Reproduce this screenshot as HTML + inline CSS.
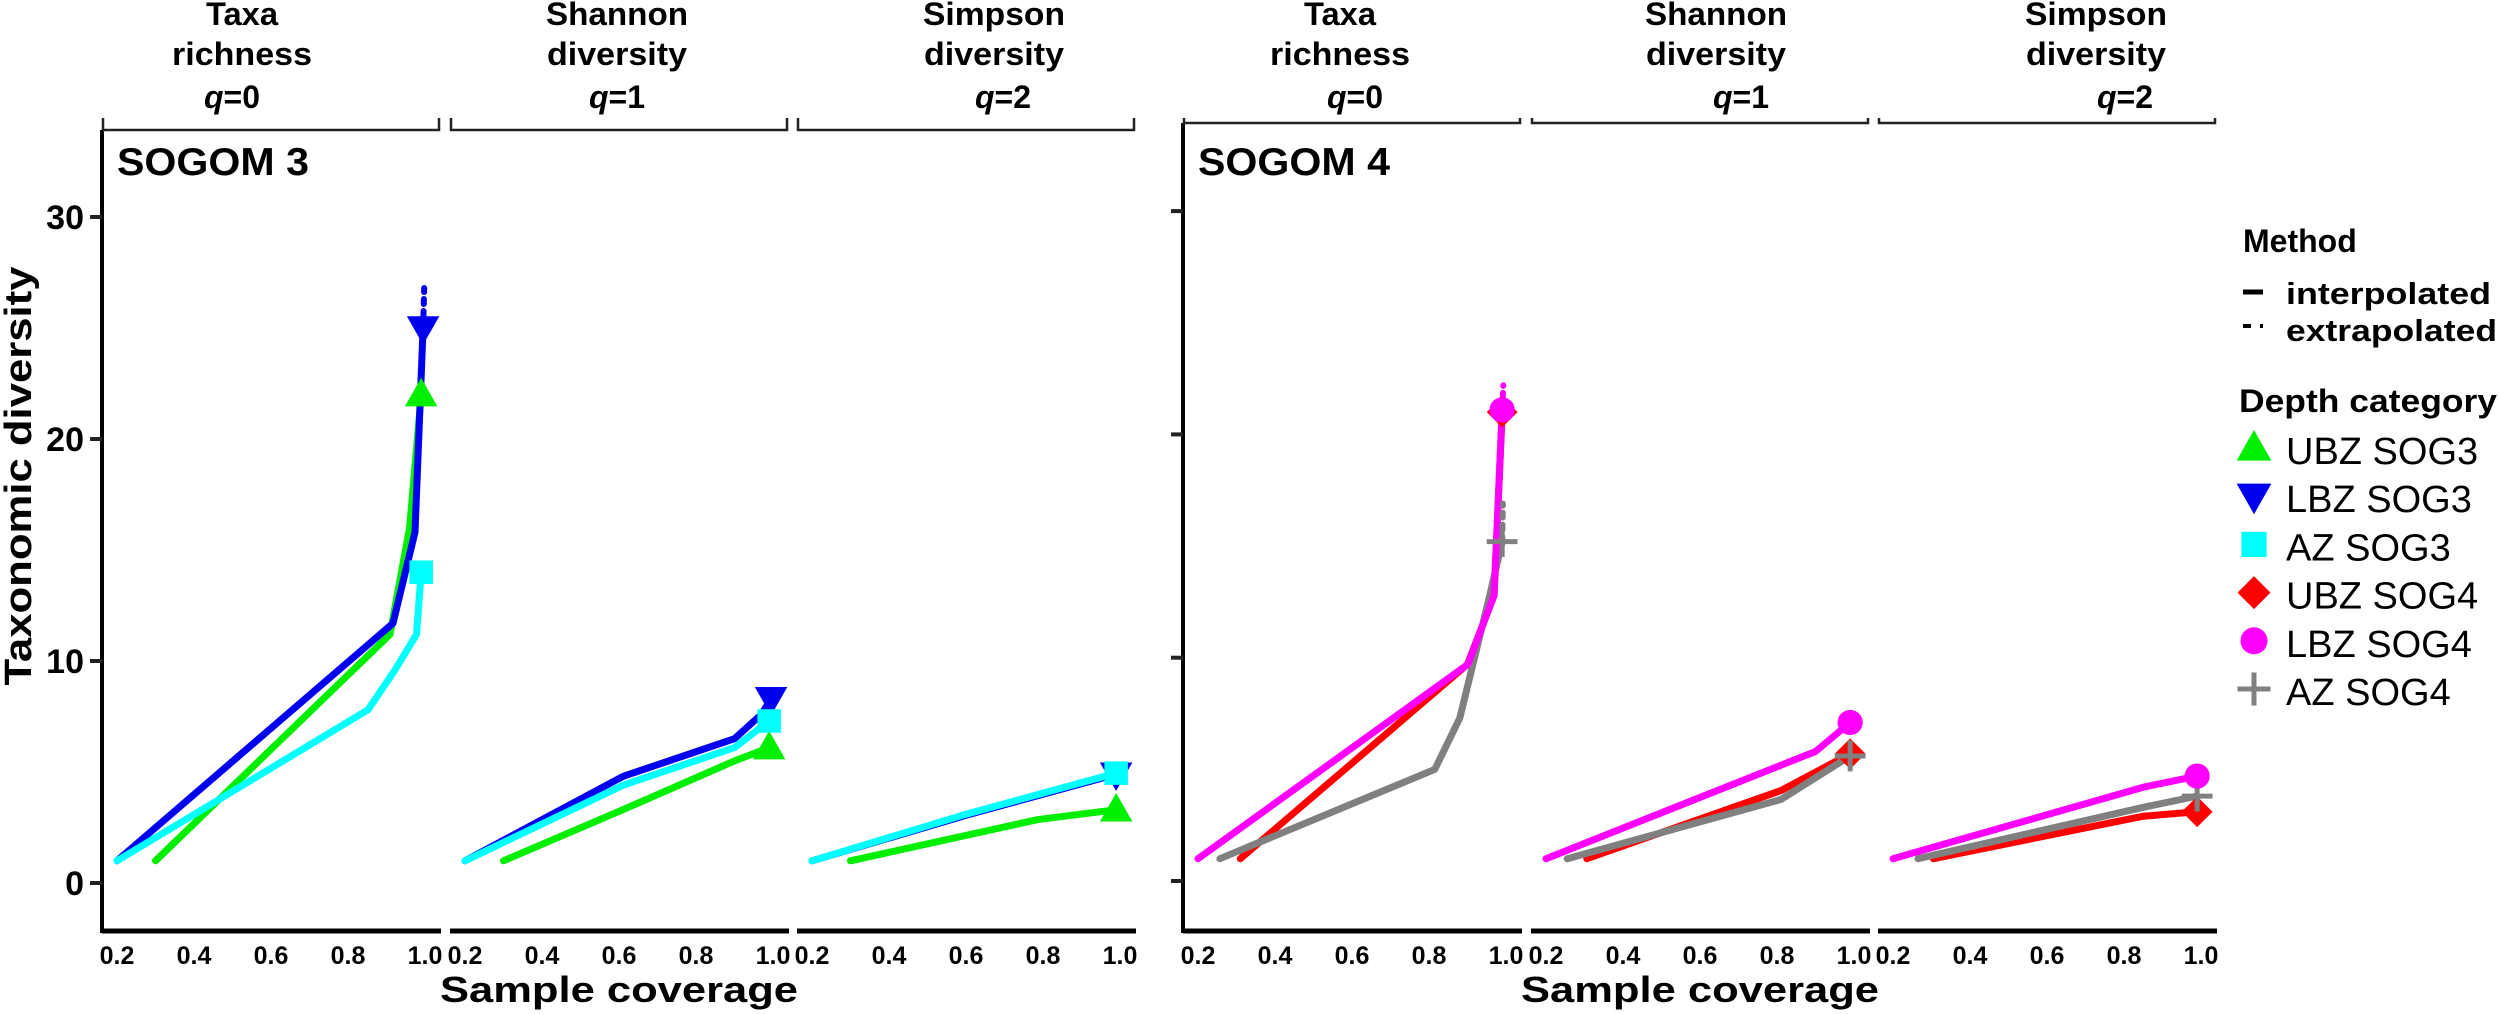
<!DOCTYPE html>
<html><head><meta charset="utf-8"><style>
html,body{margin:0;padding:0;background:#fff;}
svg{display:block;font-family:"Liberation Sans",Arial,sans-serif;}
</style></head><body>
<svg id="chart" width="2500" height="1014" viewBox="0 0 2500 1014" xmlns="http://www.w3.org/2000/svg"></svg>
<script>
// ---- data ----
const xTicks = [0.2, 0.4, 0.6, 0.8, 1.0];
const xTickLabels = ["0.2", "0.4", "0.6", "0.8", "1.0"];
const yTicks = [0, 10, 20, 30];
const yTickLabels = ["0", "10", "20", "30"];
const panelNames = ["SOGOM 3", "SOGOM 4"];
const facetTitles = [["Taxa", "richness", "0"], ["Shannon", "diversity", "1"], ["Simpson", "diversity", "2"]];
const seriesNames = ["UBZ SOG3", "LBZ SOG3", "AZ SOG3", "UBZ SOG4", "LBZ SOG4", "AZ SOG4"];

// SOGOM 3 - q=0
const cov_UBZ3_q0 = [0.30, 0.909, 0.96, 0.99];
const div_UBZ3_q0 = [1, 11.2, 16, 22];
const cov_AZ3_q0 = [0.2, 0.852, 0.922, 0.978, 0.99];
const div_AZ3_q0 = [1, 7.8, 9.6, 11.2, 14];
const cov_LBZ3_q0 = [0.2, 0.917, 0.974, 0.995];
const div_LBZ3_q0 = [1, 11.7, 15.8, 25];
const extCov_LBZ3_q0 = [0.995, 0.998];
const extDiv_LBZ3_q0 = [25, 26.8];
// SOGOM 3 - q=1
const cov_UBZ3_q1 = [0.3, 0.61, 0.9, 0.99];
const div_UBZ3_q1 = [1, 3.3, 5.5, 6.1];
const cov_AZ3_q1 = [0.2, 0.61, 0.9, 0.99];
const div_AZ3_q1 = [1, 4.4, 6.1, 7.3];
const cov_LBZ3_q1 = [0.2, 0.61, 0.9, 0.97, 0.995];
const div_LBZ3_q1 = [1, 4.8, 6.5, 7.6, 8.3];
// SOGOM 3 - q=2
const cov_UBZ3_q2 = [0.3, 0.785, 0.99];
const div_UBZ3_q2 = [1, 2.85, 3.3];
const cov_LBZ3_q2 = [0.2, 0.6, 0.99];
const div_LBZ3_q2 = [1, 3.05, 4.9];
const cov_AZ3_q2 = [0.2, 0.6, 0.99];
const div_AZ3_q2 = [1, 3.1, 4.95];
// SOGOM 4 - q=0
const cov_UBZ4_q0 = [0.31, 0.90, 0.969, 0.99];
const div_UBZ4_q0 = [1, 9.7, 12.8, 21];
const cov_AZ4_q0 = [0.257, 0.815, 0.88, 0.958, 0.99];
const div_AZ4_q0 = [1, 5, 7.3, 12.8, 15.2];
const extCov_AZ4_q0 = [0.99, 0.992];
const extDiv_AZ4_q0 = [15.2, 16.9];
const cov_LBZ4_q0 = [0.2, 0.901, 0.969, 0.99];
const div_LBZ4_q0 = [1, 9.7, 12.8, 21.1];
const extCov_LBZ4_q0 = [0.99, 0.993];
const extDiv_LBZ4_q0 = [21.1, 22.2];
// SOGOM 4 - q=1
const cov_UBZ4_q1 = [0.306, 0.81, 0.99];
const div_UBZ4_q1 = [1, 4.05, 5.7];
const cov_AZ4_q1 = [0.255, 0.81, 0.99];
const div_AZ4_q1 = [1, 3.65, 5.6];
const cov_LBZ4_q1 = [0.2, 0.9, 0.99];
const div_LBZ4_q1 = [1, 5.8, 7.1];
// SOGOM 4 - q=2
const cov_UBZ4_q2 = [0.305, 0.85, 0.99];
const div_UBZ4_q2 = [1, 2.9, 3.1];
const cov_AZ4_q2 = [0.265, 0.85, 0.99];
const div_AZ4_q2 = [1, 3.3, 3.8];
const cov_LBZ4_q2 = [0.2, 0.85, 0.99];
const div_LBZ4_q2 = [1, 4.2, 4.7];

// ---- layout ----
const NS = "http://www.w3.org/2000/svg";
const svg = document.getElementById("chart");
const colors = {UBZ3:"#00ee00", LBZ3:"#0000ee", AZ3:"#00ffff", UBZ4:"#ff0000", LBZ4:"#ff00ff", AZ4:"#808080"};
const shapes = {UBZ3:"tri", LBZ3:"itri", AZ3:"sq", UBZ4:"dia", LBZ4:"circ", AZ4:"plus"};
const panels = [
  {x0:102, facetLefts:[102,450,797], y0:883, yUnit:22.2, top:130, keys:["UBZ3","LBZ3","AZ3"]},
  {x0:1183, facetLefts:[1183,1531,1878], y0:881, yUnit:22.33, top:123, keys:["UBZ4","AZ4","LBZ4"]}
];
const facetW = 339, bottomY = 931;
const titleCenters = [[[242,232],[617,617],[994,1003]],[[1340,1355],[1716,1741],[2096,2125]]];

function mk(tag, attrs, parent){
  const e = document.createElementNS(NS, tag);
  for (const k in attrs) e.setAttribute(k, attrs[k]);
  (parent || svg).appendChild(e);
  return e;
}
function xs(p, f, c){ return panels[p].facetLefts[f] + 15 + (c - 0.2) * 385; }
function ys(p, v){ return panels[p].y0 - v * panels[p].yUnit; }

function marker(shape, cx, cy, s, color, parent){
  let e;
  if (shape === "tri") e = mk("polygon", {points:`${cx},${cy-s*0.6} ${cx-s*0.58},${cy+s*0.42} ${cx+s*0.58},${cy+s*0.42}`, fill:color}, parent);
  else if (shape === "itri") e = mk("polygon", {points:`${cx},${cy+s*0.6} ${cx-s*0.58},${cy-s*0.42} ${cx+s*0.58},${cy-s*0.42}`, fill:color}, parent);
  else if (shape === "sq") e = mk("rect", {x:cx-s*0.42, y:cy-s*0.42, width:s*0.84, height:s*0.84, fill:color}, parent);
  else if (shape === "dia") e = mk("polygon", {points:`${cx},${cy-s*0.55} ${cx+s*0.55},${cy} ${cx},${cy+s*0.55} ${cx-s*0.55},${cy}`, fill:color}, parent);
  else if (shape === "circ") e = mk("circle", {cx:cx, cy:cy, r:s*0.45, fill:color}, parent);
  else { e = mk("path", {d:`M${cx-s*0.55},${cy}H${cx+s*0.55}M${cx},${cy-s*0.55}V${cy+s*0.55}`, stroke:color, "stroke-width":5, fill:"none"}, parent); }
  return e;
}

panels.forEach((P, p) => {
  const g = mk("g", {});
  
  
  const ya = mk("line", {x1:P.x0, y1:P.top, x2:P.x0, y2:bottomY+2, stroke:"#000", "stroke-width":4}, g);
  
  
  yTicks.forEach((t, i) => {
    const tk = mk("line", {x1:P.x0-12, y1:ys(p,t), x2:P.x0, y2:ys(p,t), stroke:"#222", "stroke-width":4}, g);
    
    
    if (p === 0) {
      const tl = mk("text", {x:P.x0-18, y:ys(p,t)+12, "text-anchor":"end", "font-size":34, "font-weight":"bold"}, g);
      tl.textContent = yTickLabels[i];
      
      
    }
  });
  const pl = mk("text", {x:P.x0+15, y:175, "font-size":39, "font-weight":"bold", textLength:192, lengthAdjust:"spacingAndGlyphs"}, g);
  pl.textContent = panelNames[p];
  
  
  P.facetLefts.forEach((L, f) => {
    const bx = mk("line", {x1:L, y1:bottomY, x2:L+facetW, y2:bottomY, stroke:"#000", "stroke-width":5}, g);
    
    
    xTicks.forEach((t, i) => {
      const xl = mk("text", {x:xs(p,f,t), y:964, "text-anchor":"middle", "font-size":25, "font-weight":"bold"}, g);
      xl.textContent = xTickLabels[i];
      
      
    });
    const br = mk("path", {d:`M${L+1},118V${P.top}H${L+facetW-2}V118`, stroke:"#222", "stroke-width":2.5, fill:"none"}, g);
    
    
    const tc = titleCenters[p][f];
    const ft = facetTitles[f];
    const t1 = mk("text", {x:tc[0], y:25, "text-anchor":"middle", "font-size":32, "font-weight":"bold", textLength:ft[0].length>4?142:72, lengthAdjust:"spacingAndGlyphs"}, g);
    t1.textContent = ft[0];
    
    
    const t2 = mk("text", {x:tc[0], y:65, "text-anchor":"middle", "font-size":32, "font-weight":"bold", textLength:140, lengthAdjust:"spacingAndGlyphs"}, g);
    t2.textContent = ft[1];
    
    
    const t3 = mk("text", {x:tc[1], y:108, "text-anchor":"middle", "font-size":32, "font-weight":"bold"}, g);
    t3.innerHTML = '<tspan font-style="italic">q</tspan>=' + ft[2];
    
    
  });
  const xt = mk("text", {x:(P.facetLefts[0]+P.facetLefts[2]+facetW)/2, y:1002, "text-anchor":"middle", "font-size":36, "font-weight":"bold", textLength:358, lengthAdjust:"spacingAndGlyphs"}, g);
  xt.textContent = "Sample coverage";
  
  
});

const yt = mk("text", {x:0, y:0, transform:"translate(31,476) rotate(-90)", "text-anchor":"middle", "font-size":38, "font-weight":"bold", textLength:419, lengthAdjust:"spacingAndGlyphs"});
yt.textContent = "Taxonomic diversity";



const seriesData = {
  UBZ3:[[cov_UBZ3_q0,div_UBZ3_q0],[cov_UBZ3_q1,div_UBZ3_q1],[cov_UBZ3_q2,div_UBZ3_q2]],
  AZ3:[[cov_AZ3_q0,div_AZ3_q0],[cov_AZ3_q1,div_AZ3_q1],[cov_AZ3_q2,div_AZ3_q2]],
  LBZ3:[[cov_LBZ3_q0,div_LBZ3_q0],[cov_LBZ3_q1,div_LBZ3_q1],[cov_LBZ3_q2,div_LBZ3_q2]],
  UBZ4:[[cov_UBZ4_q0,div_UBZ4_q0],[cov_UBZ4_q1,div_UBZ4_q1],[cov_UBZ4_q2,div_UBZ4_q2]],
  AZ4:[[cov_AZ4_q0,div_AZ4_q0],[cov_AZ4_q1,div_AZ4_q1],[cov_AZ4_q2,div_AZ4_q2]],
  LBZ4:[[cov_LBZ4_q0,div_LBZ4_q0],[cov_LBZ4_q1,div_LBZ4_q1],[cov_LBZ4_q2,div_LBZ4_q2]]
};
const extData = [
  {key:"LBZ3", p:0, c:extCov_LBZ3_q0, d:extDiv_LBZ3_q0},
  {key:"AZ4", p:1, c:extCov_AZ4_q0, d:extDiv_AZ4_q0},
  {key:"LBZ4", p:1, c:extCov_LBZ4_q0, d:extDiv_LBZ4_q0}
];
panels.forEach((P, p) => {
  P.keys.forEach(key => {
    seriesData[key].forEach((sd, f) => {
      const [c, d] = sd;
      const pts = c.map((cv, i) => xs(p,f,cv).toFixed(1) + "," + ys(p,d[i]).toFixed(1)).join(" ");
      const ln = mk("polyline", {points:pts, fill:"none", stroke:colors[key], "stroke-width":7, "stroke-linejoin":"round", "stroke-linecap":"round"});
      
      
    });
  });
});
extData.forEach(e => {
  const pts = e.c.map((cv, i) => xs(e.p,0,cv).toFixed(1) + "," + ys(e.p,e.d[i]).toFixed(1)).join(" ");
  const ln = mk("polyline", {points:pts, fill:"none", stroke:colors[e.key], "stroke-width":6, "stroke-dasharray":"5,7", "stroke-linecap":"round"});
  
  
});
panels.forEach((P, p) => {
  P.keys.forEach(key => {
    seriesData[key].forEach((sd, f) => {
      const [c, d] = sd;
      const n = c.length - 1;
      const m = marker(shapes[key], xs(p,f,c[n]), ys(p,d[n]), 28, colors[key]);
      
      
    });
  });
});

const lg = mk("g", {});


const mt = mk("text", {x:2243, y:252, "font-size":32, "font-weight":"bold"}, lg);
mt.textContent = "Method";


const k1 = mk("line", {x1:2243, y1:292, x2:2263, y2:292, stroke:"#000", "stroke-width":5}, lg);


const l1 = mk("text", {x:2286, y:304, "font-size":31, "font-weight":"bold", textLength:205, lengthAdjust:"spacingAndGlyphs"}, lg);
l1.textContent = "interpolated";


const k2 = mk("line", {x1:2243, y1:326, x2:2264, y2:326, stroke:"#000", "stroke-width":4, "stroke-dasharray":"8,9,3"}, lg);


const l2 = mk("text", {x:2286, y:341, "font-size":31, "font-weight":"bold", textLength:211, lengthAdjust:"spacingAndGlyphs"}, lg);
l2.textContent = "extrapolated";


const dt = mk("text", {x:2239, y:412, "font-size":32, "font-weight":"bold", textLength:258, lengthAdjust:"spacingAndGlyphs"}, lg);
dt.textContent = "Depth category";


const legKeys = ["UBZ3","LBZ3","AZ3","UBZ4","LBZ4","AZ4"];
legKeys.forEach((k, i) => {
  const yb = 464 + i * 48.2;
  const m = marker(shapes[k], 2254, yb - 16, 30, colors[k], lg);
  
  
  const t = mk("text", {x:2286, y:yb, "font-size":38}, lg);
  t.textContent = seriesNames[i];
  
  
});
</script>
</body></html>
